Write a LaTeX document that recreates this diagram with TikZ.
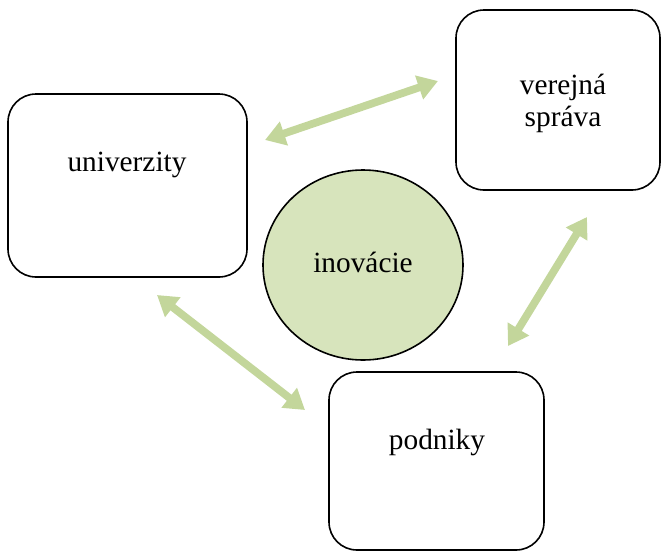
\documentclass[tikz,border=0pt]{standalone}
\usepackage{fontspec}
\setmainfont{Liberation Serif}
\usetikzlibrary{arrows.meta,shapes.geometric}
\definecolor{arrowgreen}{HTML}{C3D69B}
\definecolor{ovalgreen}{HTML}{D7E4BC}

\begin{document}
\begin{tikzpicture}[x=0.75pt,y=-0.75pt,
    box/.style={draw,line width=1.2pt,rounded corners=21pt,inner sep=0pt},
    oval/.style={draw,ellipse,line width=1.2pt,fill=ovalgreen,inner sep=0pt,
                 minimum width=150pt,minimum height=142.5pt},
    word/.style={font=\fontsize{22}{24}\selectfont,align=center},
    link/.style={draw=arrowgreen,line width=5.8pt,
                 {Triangle[length=15pt,width=18pt]}-{Triangle[length=15pt,width=18pt]}}]
    \useasboundingbox (0,0) rectangle (661,551);
    % boxes
    \node[box,minimum width=179.25pt,minimum height=137.25pt] (univ) at (127.5,185.5) {};
    \node[box,minimum width=153pt,minimum height=135pt] (sprava) at (558,100) {};
    \node[box,minimum width=161.25pt,minimum height=133.5pt] (podniky) at (436.5,461) {};
    \node[oval] (inov) at (363,265) {};
    % texts
    \node[word] (univtext) at (127,165) {univerzity};
    \node[word] (spravatext) at (563,103) {verejná\\správa};
    \node[word] (podnikytext) at (437,442) {podniky};
    \node[word] (inovtext) at (363,262) {inovácie};
    % arrow ends
    \coordinate (u1) at (265,140);
    \coordinate (s1) at (438,81);
    \coordinate (u2) at (157,295);
    \coordinate (p1) at (305,410);
    \coordinate (p2) at (508,346);
    \coordinate (s2) at (587,217);
    \draw[link] (u1) -- (s1);
    \draw[link] (u2) -- (p1);
    \draw[link] (p2) -- (s2);
\end{tikzpicture}
\end{document}
